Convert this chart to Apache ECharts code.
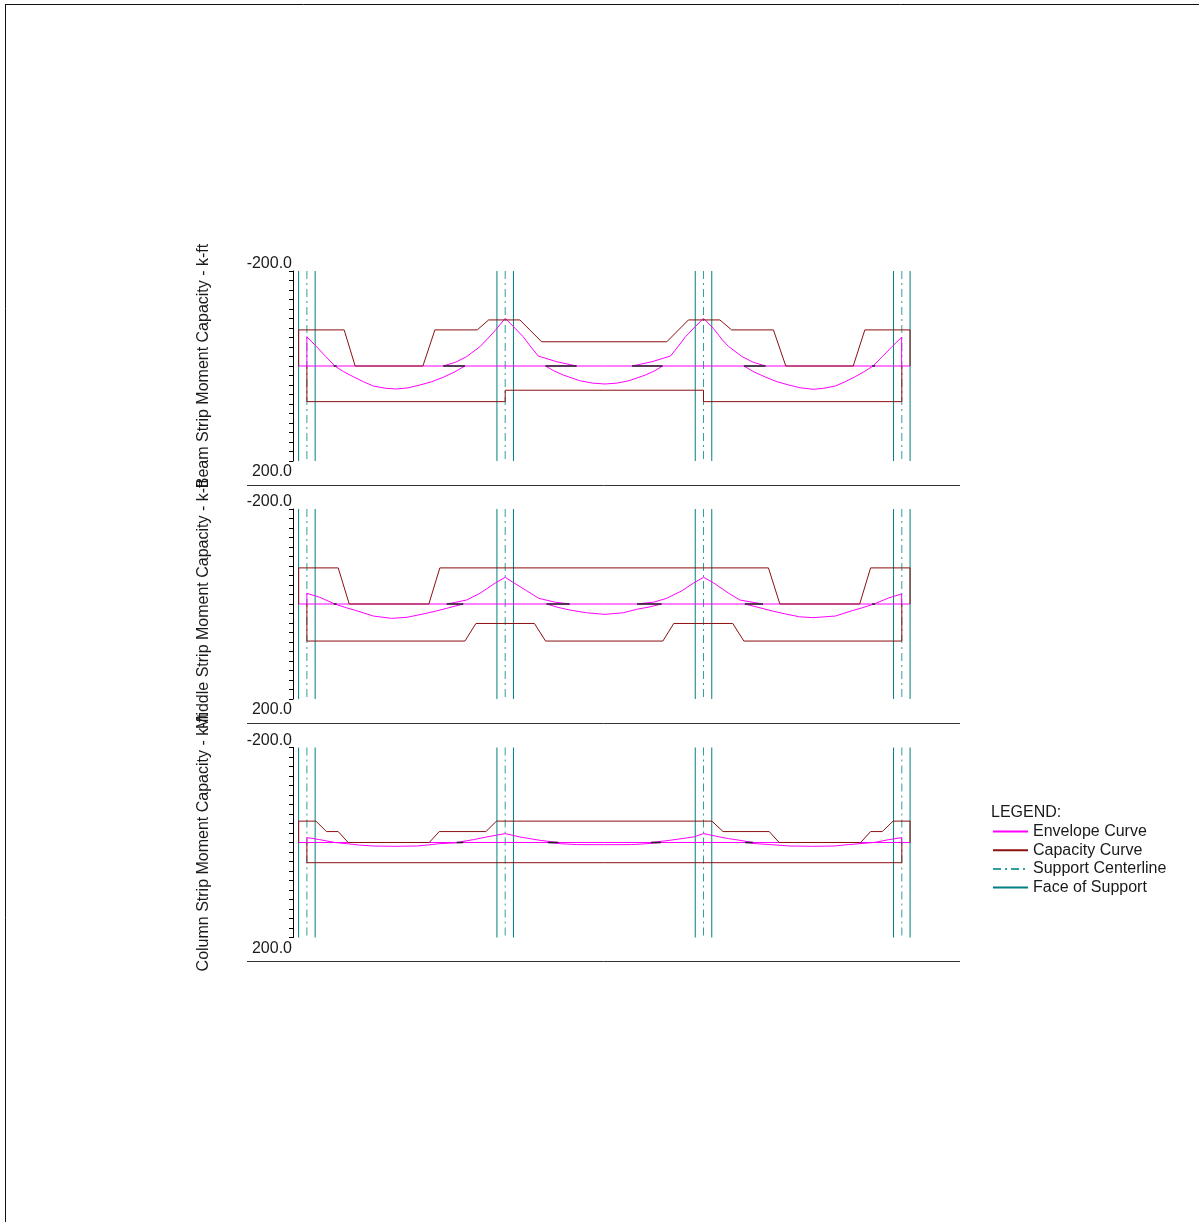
<!DOCTYPE html>
<html>
<head>
<meta charset="utf-8">
<script src="https://cdn.jsdelivr.net/npm/echarts@6/dist/echarts.min.js"></script>
<style>
html,body{margin:0;padding:0;background:#fff;}
#c{width:1199px;height:1222px;}
</style>
</head>
<body>
<div id="c"></div>
<script>
// ---------------- DATA ----------------
const panelNames = [
  'Beam Strip Moment Capacity - k-ft',
  'Middle Strip Moment Capacity - k-ft',
  'Column Strip Moment Capacity - k-ft'
];
const legendNames = ['Envelope Curve', 'Capacity Curve', 'Support Centerline', 'Face of Support'];
const yMin = -200, yMax = 200, yStep = 20;
const xMin = -1.4, xMax = 61.4;            // ft
const supportX = [0, 20, 40, 60];           // support centerlines, ft
const faceHalf = 0.833;                     // half column width, ft
const zeroLine = [[-0.833, 0], [60.833, 0]];

// Panel 1 : Beam strip
const capNeg1 = [[-0.833,0],[-0.833,-76],[3.76,-76],[4.87,0],[11.7,0],[12.91,-76],[17.18,-76],[18.33,-97],[21.48,-97],[23.67,-51],[36.3,-51],[38.48,-97],[41.65,-97],[42.83,-76],[47.05,-76],[48.3,0],[55.1,0],[56.27,-76],[60.833,-76],[60.833,0]];
const capPos1 = [[0,0],[0,75],[20,75],[20,51],[40,51],[40,75],[60,75],[60,0]];
const envNeg1 = [
  [[13.75,0],[15.0,-8],[16.1,-19.6],[17.45,-40.6],[18.12,-55],[19.0,-75],[20.0,-100.4],[20.84,-82.7],[21.8,-62],[22.6,-40],[23.33,-21],[25.2,-9],[27.2,0]],
  [[32.8,0],[34.8,-9],[36.67,-21],[37.4,-40],[38.2,-62],[39.16,-82.7],[40.0,-100.4],[40.98,-79.4],[41.9,-55],[42.55,-40.6],[43.9,-19.6],[45.0,-8],[46.25,0]]
];
const envPos1 = [
  [[0,0],[0,-61.7],[0.98,-40.6],[1.9,-20],[2.82,0],[3.7,12],[4.67,22.5],[5.7,33],[6.69,42.1],[7.9,46.8],[9.05,48.4],[10.2,46],[11.4,40],[12.6,33],[13.75,23.8],[14.9,12.5],[15.94,0]],
  [[24.07,0],[24.9,10],[25.85,18.9],[27.5,30.9],[28.8,36],[30.05,37.9],[31.3,36],[32.5,30.9],[34.15,18.9],[35.1,10],[35.87,0]],
  [[44.07,0],[45.1,12.5],[46.3,23.8],[47.4,33],[48.6,40],[49.8,46],[51.06,49],[52.1,47],[53.3,42.1],[54.3,33],[55.3,22.5],[56.2,12],[57.1,0],[58.05,-20],[59.0,-40.6],[59.98,-60.4],[59.98,0]]
];
const dark1 = [[[2.7,0],[3.0,0]],[[13.75,0],[15.94,0]],[[24.07,0],[27.2,0]],[[32.8,0],[35.87,0]],[[44.07,0],[46.25,0]],[[57.0,0],[57.3,0]]];

// Panel 2 : Middle strip
const capNeg2 = [[-0.833,0],[-0.833,-76],[3.16,-76],[4.27,0],[12.3,0],[13.41,-76],[46.55,-76],[47.7,0],[55.75,0],[56.85,-76],[60.833,-76],[60.833,0]];
const capPos2 = [[0,0],[0,78],[15.94,78],[17.05,41],[22.95,41],[24.07,78],[35.9,78],[37.0,41],[42.95,41],[44.07,78],[60,78],[60,0]];
const envNeg2 = [
  [[14.1,0],[15.0,-3.5],[16.1,-8.4],[17.45,-22.5],[18.96,-43.6],[20.0,-56.2],[20.84,-45],[22.16,-28],[23.37,-12],[25.0,-4],[26.5,0]],
  [[33.3,0],[35.0,-4],[36.28,-12],[37.84,-28],[38.96,-43.6],[40.0,-56.2],[40.98,-45],[42.55,-22.5],[43.67,-8.4],[45.0,-3.5],[46.0,0]]
];
const envPos2 = [
  [[0,0],[0,-22.5],[1.31,-14],[2.82,0],[4.0,8],[5.0,14],[6.69,25.3],[8.54,30.2],[10.1,28],[11.73,21],[13.0,15],[14.1,9.1],[15.77,0]],
  [[24.17,0],[25.3,7],[26.5,12.6],[28.2,18.5],[30.05,21.8],[31.9,18.5],[33.25,11.2],[34.6,6],[35.77,0]],
  [[44.17,0],[45.9,9.1],[47.0,15],[48.27,21],[49.7,27],[51.06,28.8],[53.3,25.3],[55.0,14],[56.0,8],[57.2,0],[58.7,-13],[59.98,-21.1],[59.98,0]]
];
const dark2 = [[[2.7,0],[3.0,0]],[[14.1,0],[15.77,0]],[[24.17,0],[26.5,0]],[[33.3,0],[35.77,0]],[[44.17,0],[46.0,0]],[[57.0,0],[57.3,0]]];

// Panel 3 : Column strip
const capNeg3 = [[-0.833,0],[-0.833,-45],[0.91,-45],[1.98,-23],[3.16,-23],[4.17,0],[12.34,0],[13.35,-23],[18.05,-23],[19.13,-45],[40.85,-45],[41.97,-23],[46.63,-23],[47.63,0],[55.85,0],[56.85,-23],[58.03,-23],[59.12,-45],[60.833,-45],[60.833,0]];
const capPos3 = [[0,0],[0,42.5],[60,42.5],[60,0]];
const envNeg3 = [
  [[15.1,0],[16.8,-6],[18.1,-11.6],[20.0,-18.7],[21.5,-11.6],[23.5,-4.6],[25.35,0]],
  [[34.7,0],[36.6,-4.6],[38.96,-11.6],[40.0,-18.7],[41.2,-13.5],[42.5,-8.2],[43.67,-4.6],[45.0,0]]
];
const envPos3 = [
  [[0,0],[0,-10.3],[1.3,-6],[2.82,0],[4.0,2.4],[5.3,5.5],[6.7,7.4],[8.9,8],[11.06,7.4],[12.3,5],[13.4,2.4],[15.77,0]],
  [[24.3,0],[25.6,2.5],[27.2,4.4],[29.9,4.6],[32.75,4.4],[34.3,2.5],[35.7,0]],
  [[44.2,0],[45.3,2.5],[46.7,4.4],[48.7,7.4],[51.0,8],[53.2,7.4],[54.6,4.5],[56.0,2],[57.2,0],[58.7,-6],[59.98,-10.3],[59.98,0]]
];
const dark3 = [[[15.1,0],[15.77,0]],[[24.3,0],[25.35,0]],[[34.7,0],[35.7,0]],[[44.2,0],[45.0,0]]];

const panels = [
  {capNeg: capNeg1, capPos: capPos1, envNeg: envNeg1, envPos: envPos1, dark: dark1},
  {capNeg: capNeg2, capPos: capPos2, envNeg: envNeg2, envPos: envPos2, dark: dark2},
  {capNeg: capNeg3, capPos: capPos3, envNeg: envNeg3, envPos: envPos3, dark: dark3}
];

// ---------------- STYLE / LAYOUT ----------------
const FONT = '"Liberation Sans", Arial, sans-serif';
const TXT = '#1a1a1a';
const C_ENV = '#ff00ff', C_CAP = '#8b1010', C_CL = '#2f9f9f', C_FACE = '#008080', C_DARK = '#222';
const gridTops = [271, 509, 747.5];
const gridLeft = 293, gridH = 190, gridW = 622.7;

const chart = echarts.init(document.getElementById('c'), null, {renderer: 'canvas'});

const grids = [], xAxes = [], yAxes = [], series = [];

function addLine(gi, name, pts, color, width, type, z) {
  series.push({
    type: 'line', name: name, xAxisIndex: gi, yAxisIndex: gi,
    data: pts, symbol: 'none', showSymbol: false,
    silent: true, animation: false, clip: false, z: z,
    lineStyle: {color: color, width: width, type: type || 'solid'},
    itemStyle: {color: color},
    emphasis: {disabled: true}
  });
}

panels.forEach((p, gi) => {
  grids.push({left: gridLeft, top: gridTops[gi], width: gridW, height: gridH, containLabel: false, outerBoundsMode: 'none'});
  xAxes.push({type: 'value', gridIndex: gi, min: xMin, max: xMax, show: false});
  yAxes.push({
    type: 'value', gridIndex: gi, min: yMin, max: yMax, interval: yStep, inverse: true,
    position: 'left',
    name: panelNames[gi], nameLocation: 'middle', nameGap: 81, nameRotate: 90,
    nameTextStyle: {fontSize: 16, color: TXT, fontFamily: FONT},
    axisLine: {show: true, onZero: false, lineStyle: {color: '#000', width: 1}},
    axisTick: {show: true, length: 4, inside: false, lineStyle: {color: '#000', width: 1}},
    splitLine: {show: false},
    axisLabel: {
      show: true, margin: 1, fontSize: 16, color: TXT, fontFamily: FONT,
      formatter: function (v) {
        if (v === yMin) return '{t|' + v.toFixed(1) + '}';
        if (v === yMax) return '{b|' + v.toFixed(1) + '}';
        return '';
      },
      rich: {
        t: {fontSize: 16, color: TXT, fontFamily: FONT, padding: [0, 0, 14, 0]},
        b: {fontSize: 16, color: TXT, fontFamily: FONT, padding: [22, 0, 0, 0]}
      }
    }
  });

  // supports
  supportX.forEach(sx => {
    addLine(gi, 'Support Centerline', [[sx, yMin], [sx, yMax]], C_CL, 1, [8, 4, 2, 4], 1);
    addLine(gi, 'Face of Support', [[sx - faceHalf, yMin], [sx - faceHalf, yMax]], C_FACE, 1, 'solid', 1);
    addLine(gi, 'Face of Support', [[sx + faceHalf, yMin], [sx + faceHalf, yMax]], C_FACE, 1, 'solid', 1);
  });
  // envelope
  addLine(gi, 'Envelope Curve', zeroLine, C_ENV, 1, 'solid', 2);
  p.envPos.forEach(seg => addLine(gi, 'Envelope Curve', seg, C_ENV, 1, 'solid', 3));
  p.envNeg.forEach(seg => addLine(gi, 'Envelope Curve', seg, C_ENV, 1, 'solid', 3));
  // capacity
  addLine(gi, 'Capacity Curve', p.capNeg, C_CAP, 1, 'solid', 4);
  addLine(gi, 'Capacity Curve', p.capPos, C_CAP, 1, 'solid', 4);
  // dark zero pieces
  p.dark.forEach(seg => addLine(gi, '', seg, C_DARK, 1.5, 'solid', 5));
});

const option = {
  backgroundColor: '#fff',
  animation: false,
  textStyle: {fontFamily: FONT},
  title: {
    text: 'LEGEND:', left: 991, top: 805, padding: 0,
    textStyle: {fontSize: 16, fontWeight: 'normal', color: TXT, fontFamily: FONT}
  },
  legend: {
    data: legendNames, orient: 'vertical', left: 992, top: 823.5, padding: 0,
    itemWidth: 35, itemHeight: 12, itemGap: 2.7, selectedMode: false,
    itemStyle: {color: 'rgba(0,0,0,0)', borderColor: 'rgba(0,0,0,0)', borderWidth: 0},
    textStyle: {fontSize: 16, color: TXT, fontFamily: FONT, lineHeight: 16}
  },
  grid: grids, xAxis: xAxes, yAxis: yAxes, series: series,
  graphic: [
    {type: 'line', silent: true, shape: {x1: 5, y1: 4.5, x2: 1199, y2: 4.5}, style: {stroke: '#111', lineWidth: 1}},
    {type: 'line', silent: true, shape: {x1: 5.5, y1: 4, x2: 5.5, y2: 1222}, style: {stroke: '#111', lineWidth: 1}},
    {type: 'line', silent: true, shape: {x1: 247, y1: 485.5, x2: 960, y2: 485.5}, style: {stroke: '#333', lineWidth: 1}},
    {type: 'line', silent: true, shape: {x1: 247, y1: 723.5, x2: 960, y2: 723.5}, style: {stroke: '#333', lineWidth: 1}},
    {type: 'line', silent: true, shape: {x1: 247, y1: 961.5, x2: 960, y2: 961.5}, style: {stroke: '#333', lineWidth: 1}}
  ]
};
chart.setOption(option);
</script>
</body>
</html>
